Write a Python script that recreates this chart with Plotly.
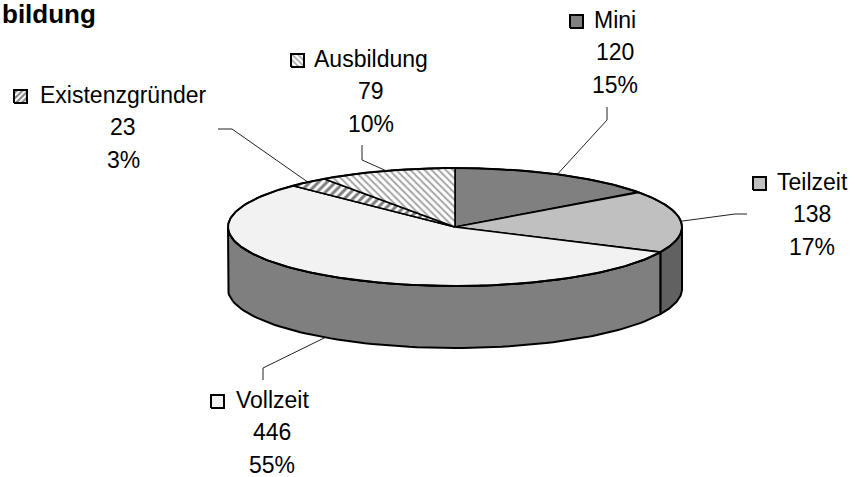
import numpy as np
import plotly.graph_objects as go

# ---------------- data ----------------
categories = ["Mini", "Teilzeit", "Vollzeit", "Existenzgründer", "Ausbildung"]
values = [120, 138, 446, 23, 79]
title_text = "bildung"

# ---------------- styles ----------------
top_colors = ["#808080", "#C0C0C0", "#F2F2F2", "white", "white"]
side_colors = ["#606060", "#616161", "#7F7F7F", "#505050", "#909090"]
patterns = [None, None, None,
            dict(shape="/", fgcolor="black", bgcolor="white", size=6, solidity=0.5),
            dict(shape="\\", fgcolor="#4a4a4a", bgcolor="white", size=5, solidity=0.4)]

W, H = 855, 477
CX, CY, RX, RY, DEPTH = 455, 227, 227, 59, 62
FONT = "Liberation Sans, Arial, sans-serif"
FS = 23
LINE_GAP = 32.5

# label layout: (center x, first baseline y, key left x)
label_pos = {
    "Mini": (615, 28, 570),
    "Teilzeit": (812, 190, 753),
    "Vollzeit": (272, 408, 211),
    "Existenzgründer": (123, 103, 14),
    "Ausbildung": (371, 67, 291),
}
# leader line outer points (label end, elbow)
leader_outer = {
    "Mini": [(607, 107), (607, 120)],
    "Teilzeit": [(747, 214), (735, 214)],
    "Vollzeit": [(263, 380), (263, 368)],
    "Existenzgründer": [(218, 129), (232, 129)],
    "Ausbildung": [(362, 145), (362, 160)],
}

total = sum(values)
fracs = [v / total for v in values]
cum = np.concatenate([[0], np.cumsum(fracs)])
# parametric angles, start at 12 o'clock, clockwise
t_start = [np.pi / 2 - 2 * np.pi * cum[i] for i in range(len(values))]
t_end = [np.pi / 2 - 2 * np.pi * cum[i + 1] for i in range(len(values))]


def ell(t, dy=0.0):
    return CX + RX * np.cos(t), CY - RY * np.sin(t) + dy


fig = go.Figure()

# ---- side walls (front half: t in [-pi, 0]) ----
for i in range(len(values)):
    a, b = t_end[i], t_start[i]  # a < b
    for shift in (0, 2 * np.pi, -2 * np.pi):
        lo, hi = max(a + shift, -np.pi), min(b + shift, 0.0)
        if hi > lo:
            ts = np.linspace(hi, lo, 80)
            xt, yt = ell(ts)
            xb, yb = ell(ts[::-1], DEPTH)
            xs = np.concatenate([xt, xb, xt[:1]])
            ys = np.concatenate([yt, yb, yt[:1]])
            fig.add_trace(go.Scatter(x=xs, y=ys, mode="lines", fill="toself",
                                     fillcolor=side_colors[i],
                                     line=dict(color="black", width=2),
                                     hoverinfo="skip", showlegend=False))

# ---- top slices ----
for i in range(len(values)):
    ts = np.linspace(t_start[i], t_end[i], 120)
    xa, ya = ell(ts)
    xs = np.concatenate([[CX], xa, [CX]])
    ys = np.concatenate([[CY], ya, [CY]])
    kw = dict(fillcolor=top_colors[i])
    if patterns[i] is not None:
        kw["fillpattern"] = patterns[i]
    fig.add_trace(go.Scatter(x=xs, y=ys, mode="lines", fill="toself",
                             line=dict(color="black", width=1.6),
                             hoverinfo="skip", showlegend=False, **kw))

# outer rim of the top ellipse
tt = np.linspace(0, 2 * np.pi, 400)
xr, yr = ell(tt)
fig.add_trace(go.Scatter(x=xr, y=yr, mode="lines", line=dict(color="black", width=2),
                         hoverinfo="skip", showlegend=False))

# ---- leader lines ----
for i, cat in enumerate(categories):
    tm = (t_start[i] + t_end[i]) / 2
    dy = DEPTH if cat == "Vollzeit" else 0
    xi, yi = ell(tm, dy)
    pts = leader_outer[cat] + [(xi, yi)]
    fig.add_trace(go.Scatter(x=[p[0] for p in pts], y=[p[1] for p in pts], mode="lines",
                             line=dict(color="#222222", width=1),
                             hoverinfo="skip", showlegend=False))

# ---- labels with legend keys ----
annotations = []
KEY = 13
for i, cat in enumerate(categories):
    cx, base, kx = label_pos[cat]
    pct = f"{round(values[i] / total * 100):.0f}%"
    lines = [cat, f"{values[i]}", pct]
    for j, txt in enumerate(lines):
        annotations.append(dict(x=cx, y=base + j * LINE_GAP - 0.36 * FS, xref="x", yref="y",
                                text=txt, showarrow=False, xanchor="center", yanchor="middle",
                                font=dict(family=FONT, size=FS, color="black")))
    kxs = [kx, kx + KEY, kx + KEY, kx, kx]
    kys = [base, base, base - KEY, base - KEY, base]
    kw = dict(fillcolor=top_colors[i])
    if patterns[i] is not None:
        p = dict(patterns[i])
        p["size"] = 4
        kw["fillpattern"] = p
    fig.add_trace(go.Scatter(x=kxs, y=kys, mode="lines", fill="toself",
                             line=dict(color="black", width=2),
                             hoverinfo="skip", showlegend=False, **kw))

annotations.append(dict(x=98, y=14, xref="x", yref="y", text=f"<b>{title_text}</b>",
                        showarrow=False, xanchor="right", yanchor="middle",
                        font=dict(family=FONT, size=26, color="black")))

fig.update_layout(
    width=W, height=H,
    margin=dict(l=0, r=0, t=0, b=0),
    paper_bgcolor="white", plot_bgcolor="white",
    xaxis=dict(range=[0, W], visible=False, fixedrange=True),
    yaxis=dict(range=[H, 0], visible=False, fixedrange=True),
    annotations=annotations,
    showlegend=False,
)

fig.write_html("out.html", config={"displayModeBar": False},
               post_script="document.body.style.margin='0px';")
